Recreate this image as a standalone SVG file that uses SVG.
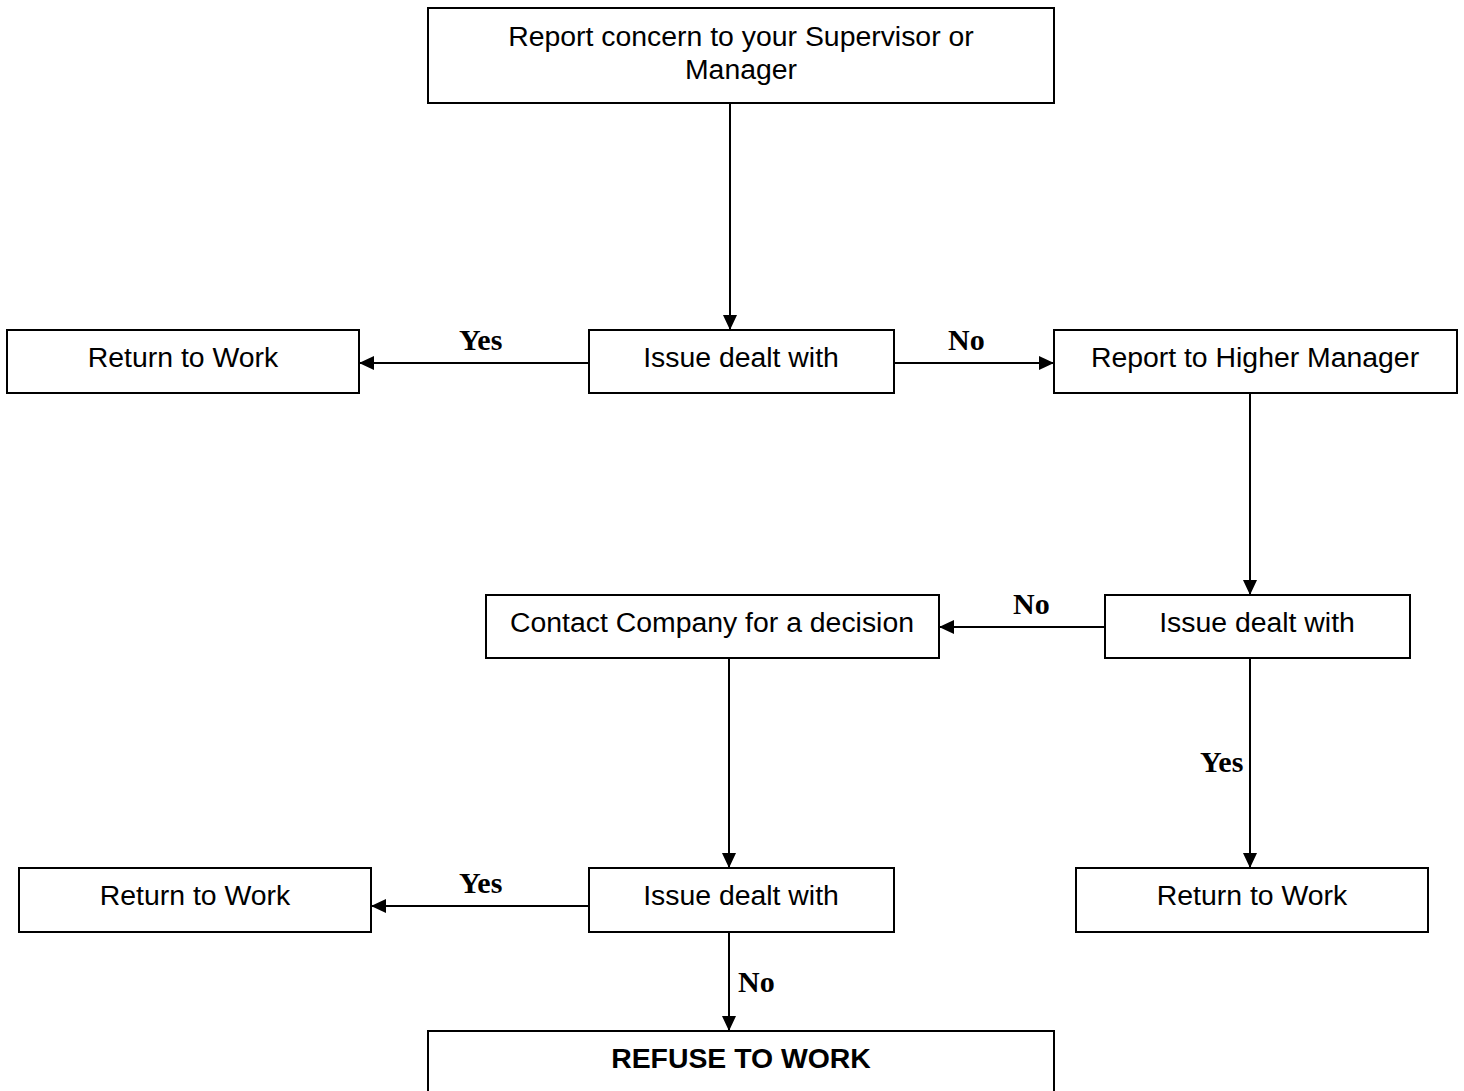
<svg xmlns="http://www.w3.org/2000/svg" width="1464" height="1091" viewBox="0 0 1464 1091">
<style>
.box{fill:#fff;stroke:#000;stroke-width:2}
.t{font-family:"Liberation Sans",Arial,sans-serif;font-size:28.4px;fill:#000;text-anchor:middle}
.b{font-weight:bold}
.lbl{font-family:"Liberation Serif","Times New Roman",serif;font-size:30px;font-weight:bold;fill:#000}
.c{stroke:#000;stroke-width:2;fill:none;marker-end:url(#ah)}
</style>
<defs>
<marker id="ah" markerWidth="15" markerHeight="14" refX="15" refY="7" orient="auto" markerUnits="userSpaceOnUse">
<path d="M0,0 L15,7 L0,14 Z" fill="#000"/>
</marker>
</defs>
<rect width="1464" height="1091" fill="#fff"/>
<g id="connectors">
<line class="c" x1="730" y1="103" x2="730" y2="330"/>
<line class="c" x1="589" y1="363" x2="359" y2="363"/>
<line class="c" x1="894" y1="363" x2="1054" y2="363"/>
<line class="c" x1="1250" y1="393" x2="1250" y2="595"/>
<line class="c" x1="1105" y1="627" x2="939" y2="627"/>
<line class="c" x1="729" y1="658" x2="729" y2="868"/>
<line class="c" x1="1250" y1="658" x2="1250" y2="868"/>
<line class="c" x1="589" y1="906" x2="371" y2="906"/>
<line class="c" x1="729" y1="932" x2="729" y2="1031"/>
<text class="lbl" x="459" y="350">Yes</text>
<text class="lbl" x="948" y="350">No</text>
<text class="lbl" x="1013" y="614">No</text>
<text class="lbl" x="1200" y="772">Yes</text>
<text class="lbl" x="459" y="893">Yes</text>
<text class="lbl" x="738" y="992">No</text>
</g>
<g id="n-report">
<rect class="box" x="428" y="8" width="626" height="95"/>
<text class="t" x="741" y="46">Report concern to your Supervisor or</text>
<text class="t" x="741" y="79">Manager</text>
</g>
<g id="n-return1">
<rect class="box" x="7" y="330" width="352" height="63"/>
<text class="t" x="183" y="367">Return to Work</text>
</g>
<g id="n-issue1">
<rect class="box" x="589" y="330" width="305" height="63"/>
<text class="t" x="741" y="367">Issue dealt with</text>
</g>
<g id="n-higher">
<rect class="box" x="1054" y="330" width="403" height="63"/>
<text class="t" x="1255" y="367">Report to Higher Manager</text>
</g>
<g id="n-contact">
<rect class="box" x="486" y="595" width="453" height="63"/>
<text class="t" x="712" y="632">Contact Company for a decision</text>
</g>
<g id="n-issue2">
<rect class="box" x="1105" y="595" width="305" height="63"/>
<text class="t" x="1257" y="632">Issue dealt with</text>
</g>
<g id="n-return2">
<rect class="box" x="19" y="868" width="352" height="64"/>
<text class="t" x="195" y="905">Return to Work</text>
</g>
<g id="n-issue3">
<rect class="box" x="589" y="868" width="305" height="64"/>
<text class="t" x="741" y="905">Issue dealt with</text>
</g>
<g id="n-return3">
<rect class="box" x="1076" y="868" width="352" height="64"/>
<text class="t" x="1252" y="905">Return to Work</text>
</g>
<g id="n-refuse">
<rect class="box" x="428" y="1031" width="626" height="80"/>
<text class="t b" x="741" y="1068">REFUSE TO WORK</text>
</g>
</svg>
